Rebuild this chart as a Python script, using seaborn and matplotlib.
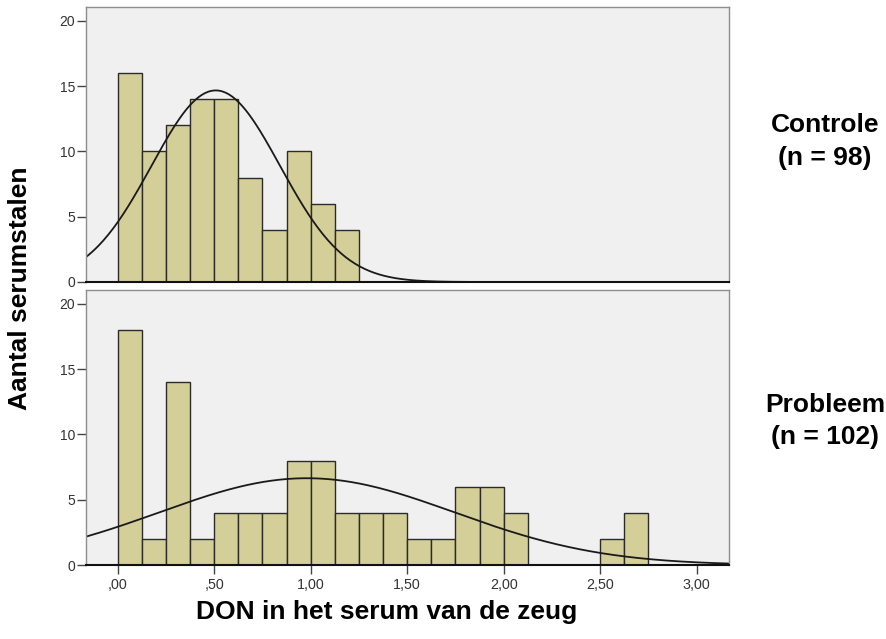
import numpy as np
import pandas as pd
import matplotlib
matplotlib.use("Agg")
import matplotlib.pyplot as plt
import seaborn as sns

# Histogram counts per bin of width 0.125, starting at 0
bin_width = 0.125
controle_counts = [16, 10, 12, 14, 14, 8, 4, 10, 6, 4]
probleem_counts = [18, 2, 14, 2, 4, 4, 4, 8, 8, 4, 4, 4, 2, 2, 6, 6, 4, 0, 0, 0, 2, 4]

# Fitted normal curves (mean, sd) per group
controle_fit = (0.508, 0.333)
probleem_fit = (0.98, 0.765)

groups = ["Controle\n(n = 98)", "Probleem\n(n = 102)"]
x_ticks = [0.0, 0.5, 1.0, 1.5, 2.0, 2.5, 3.0]
x_tick_labels = [",00", ",50", "1,00", "1,50", "2,00", "2,50", "3,00"]
y_ticks = [0, 5, 10, 15, 20]

sns.set_style("white")
plt.rcParams["font.family"] = ["Liberation Sans", "DejaVu Sans"]
plt.rcParams["text.color"] = "black"

bar_color = "#D4CF98"
panel_bg = "#F0F0F0"
frame_color = "#8E8E8E"
tick_color = "#444444"

fig = plt.figure(figsize=(8.86, 6.39), dpi=100)
ax_top = fig.add_axes([0.0967, 0.5587, 0.7265, 0.4304])
ax_bot = fig.add_axes([0.0967, 0.1158, 0.7265, 0.4304])

xmin, xmax = -0.166, 3.169
curve_x = np.linspace(xmin, xmax, 400)

label_y = [0.7786, 0.341]

for i, (ax, counts, (mu, sd), label, show_x) in enumerate([
    (ax_top, controle_counts, controle_fit, groups[0], False),
    (ax_bot, probleem_counts, probleem_fit, groups[1], True),
]):
    counts = np.asarray(counts, dtype=float)
    n_bins = len(counts)
    centers = (np.arange(n_bins) + 0.5) * bin_width
    df = pd.DataFrame({"don": centers, "n": counts})
    ax.set_facecolor(panel_bg)
    sns.histplot(data=df, x="don", weights="n", binwidth=bin_width,
                 binrange=(0, n_bins * bin_width), ax=ax,
                 color=bar_color, alpha=1.0, edgecolor="#2b2b2b", linewidth=1.0)
    n_total = counts.sum()
    dens = n_total * bin_width / (sd * np.sqrt(2 * np.pi)) * np.exp(-0.5 * ((curve_x - mu) / sd) ** 2)
    sns.lineplot(x=curve_x, y=dens, ax=ax, color="#1a1a1a", linewidth=1.3)

    ax.set_xlim(xmin, xmax)
    ax.set_ylim(0, 21.07)
    ax.set_yticks(y_ticks)
    ax.set_yticklabels([str(v) for v in y_ticks])
    ax.set_xlabel("")
    ax.set_ylabel("")
    for side in ["top", "right", "left"]:
        ax.spines[side].set_color(frame_color)
        ax.spines[side].set_linewidth(1.0)
        ax.spines[side].set_visible(True)
    ax.spines["bottom"].set_color("#111111")
    ax.spines["bottom"].set_linewidth(1.5)
    ax.spines["bottom"].set_visible(True)
    ax.tick_params(axis="y", direction="out", length=6.5, width=1, color=tick_color,
                   labelsize=10, labelcolor="#333333", left=True, pad=1)
    if show_x:
        ax.set_xticks(x_ticks)
        ax.set_xticklabels(x_tick_labels)
        ax.tick_params(axis="x", direction="out", length=6.5, width=1, color=tick_color,
                       labelsize=10.3, labelcolor="#333333", bottom=True, pad=2.5)
    else:
        ax.set_xticks([])
    fig.text(0.931, label_y[i], label, ha="center", va="center", fontsize=19,
             fontweight="bold", linespacing=1.45, color="black")

fig.text(0.0226, 0.549, "Aantal serumstalen", rotation=90, ha="center", va="center",
         fontsize=19, fontweight="bold", color="black")
fig.text(0.436, 0.042, "DON in het serum van de zeug", ha="center", va="center",
         fontsize=19, fontweight="bold", color="black")

fig.savefig("out.png", dpi=100, facecolor="white")
